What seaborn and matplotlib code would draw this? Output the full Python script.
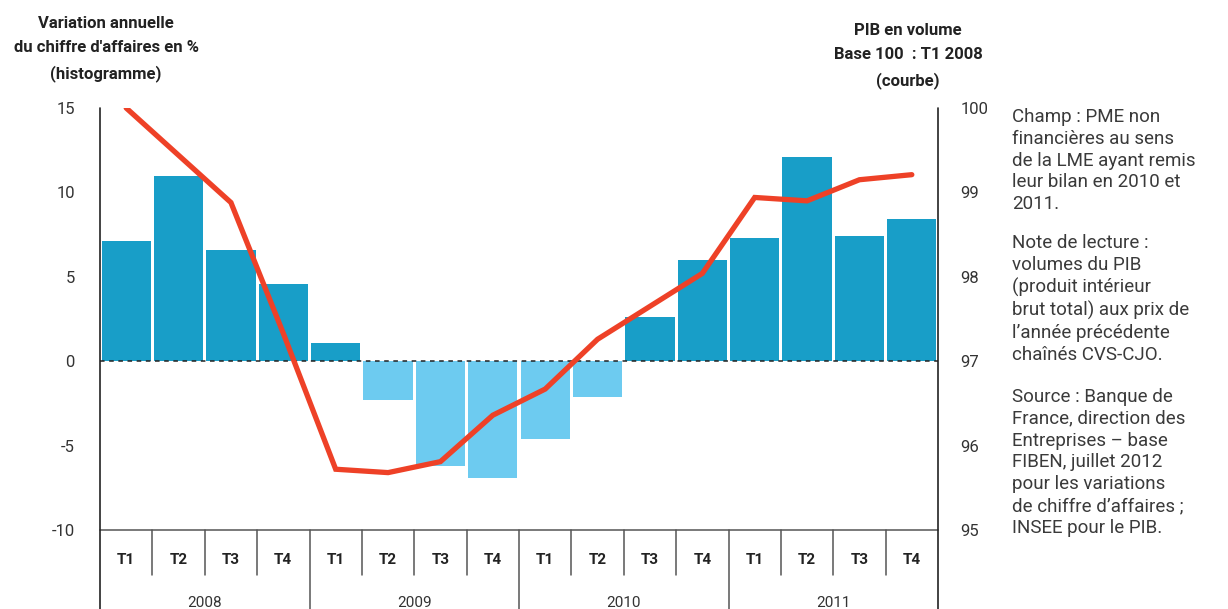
import numpy as np
import pandas as pd
import matplotlib
matplotlib.use("Agg")
import matplotlib.pyplot as plt
import matplotlib.transforms as mtransforms
import seaborn as sns

# Quarterly data, 2008 T1 - 2011 T4
trimestres = ["T1", "T2", "T3", "T4"] * 4
annees = ["2008", "2009", "2010", "2011"]
variation_ca = [7.1, 11.0, 6.6, 4.6,
                1.1, -2.3, -6.2, -6.9,
                -4.6, -2.1, 2.6, 6.0,
                7.3, 12.1, 7.4, 8.4]
pib_volume = [100.0, 99.44, 98.88, 97.33,
              95.72, 95.68, 95.81, 96.36,
              96.67, 97.26, 97.65, 98.04,
              98.94, 98.90, 99.15, 99.21]

left_ticks = [-10, -5, 0, 5, 10, 15]
right_ticks = [95, 96, 97, 98, 99, 100]

COL_POS = "#189EC8"
COL_NEG = "#6DCBF0"
COL_LINE = "#EE4127"
COL_TEXT = "#333333"
COL_GRID = "#555555"

sns.set_theme(style="white")
plt.rcParams["font.family"] = ["Roboto", "DejaVu Sans"]

W, H = 1228, 609
fig = plt.figure(figsize=(W / 100, H / 100), dpi=100)
x0, x1, y_top, y_bot = 100, 938, 108, 530
ax = fig.add_axes([x0 / W, 1 - y_bot / H, (x1 - x0) / W, (y_bot - y_top) / H])

df = pd.DataFrame({
    "pos": np.arange(len(variation_ca)),
    "valeur": variation_ca,
    "signe": ["pos" if v >= 0 else "neg" for v in variation_ca],
})
sns.barplot(data=df, x="pos", y="valeur", hue="signe",
            palette={"pos": COL_POS, "neg": COL_NEG}, saturation=1,
            dodge=False, width=0.94, legend=False, ax=ax, zorder=2,
            linewidth=0, native_scale=True)
ax.set_xlim(-0.5, len(variation_ca) - 0.5)
ax.set_ylim(-10, 15)
ax.axhline(0, color="#222222", lw=1.1, ls=(0, (3, 3)), zorder=3)

ax.set_yticks(left_ticks)
ax.set_yticklabels([str(t) for t in left_ticks])
ax.tick_params(axis="y", length=0, pad=18, labelsize=12, labelcolor=COL_TEXT)
ax.set_xticks([])
ax.set_xlabel("")
ax.set_ylabel("")

ax2 = ax.twinx()
sns.lineplot(x=np.arange(len(pib_volume)), y=pib_volume, ax=ax2,
             color=COL_LINE, lw=3.8, zorder=4, solid_capstyle="round",
             solid_joinstyle="miter")
ax2.set_ylim(95, 100)
ax2.set_yticks(right_ticks)
ax2.set_yticklabels([str(t) for t in right_ticks])
ax2.tick_params(axis="y", length=0, pad=16, labelsize=12, labelcolor=COL_TEXT)
ax2.set_xlim(-0.5, len(pib_volume) - 0.5)

for a in (ax, ax2):
    for s in a.spines.values():
        s.set_visible(False)
ax.set_zorder(1)
ax2.set_zorder(2)
ax.patch.set_visible(False)
ax2.patch.set_visible(False)

# Frame and quarter/year table below the plot
trans = mtransforms.blended_transform_factory(ax.transData, ax.transAxes)
h_px = y_bot - y_top
y_row = -(575 - y_bot) / h_px
y_end = -(H - y_bot + 2) / h_px
n = len(variation_ca)
kw = dict(transform=trans, clip_on=False, zorder=5)
ax.plot([-0.5, n - 0.5], [0, 0], color=COL_GRID, lw=1.1, **kw)
ax.plot([-0.5, -0.5], [1, y_end], color="#222222", lw=1.2, **kw)
ax.plot([n - 0.5, n - 0.5], [1, y_end], color="#222222", lw=1.2, **kw)
for i in range(1, n):
    bottom = y_end if i % 4 == 0 else y_row
    ax.plot([i - 0.5, i - 0.5], [0, bottom], color=COL_GRID, lw=1.1, **kw)
for i, t in enumerate(trimestres):
    ax.text(i, -(560 - y_bot) / h_px, t, transform=trans, ha="center",
            va="center", fontsize=11, fontweight="bold", color="#222222")
for k, yr in enumerate(annees):
    ax.text(4 * k + 1.5, -(603 - y_bot) / h_px, yr, transform=trans,
            ha="center", va="center", fontsize=11, color=COL_TEXT)

# Axis headers
fig.text(106 / W, 1 - 49 / H, "Variation annuelle\ndu chiffre d'affaires en %\n(histogramme)",
         ha="center", va="center", fontsize=12, fontweight="bold",
         color="#222222", linespacing=1.72)
fig.text(908 / W, 1 - 56 / H, "PIB en volume\nBase 100  : T1 2008\n(courbe)",
         ha="center", va="center", fontsize=12, fontweight="bold",
         color="#222222", linespacing=1.75)

# Notes on the right
notes = [
    (108, "Champ : PME non\nfinancières au sens\nde la LME ayant remis\nleur bilan en 2010 et\n2011."),
    (234, "Note de lecture :\nvolumes du PIB\n(produit intérieur\nbrut total) aux prix de\nl’année précédente\nchaînés CVS-CJO."),
    (388, "Source : Banque de\nFrance, direction des\nEntreprises – base\nFIBEN, juillet 2012\npour les variations\nde chiffre d’affaires ;\nINSEE pour le PIB."),
]
for ytop, txt in notes:
    fig.text(1012 / W, 1 - ytop / H, txt, ha="left", va="top", fontsize=13.5,
             color="#3a3a3a", linespacing=1.27)

fig.savefig("out.png", dpi=100, facecolor="white")
